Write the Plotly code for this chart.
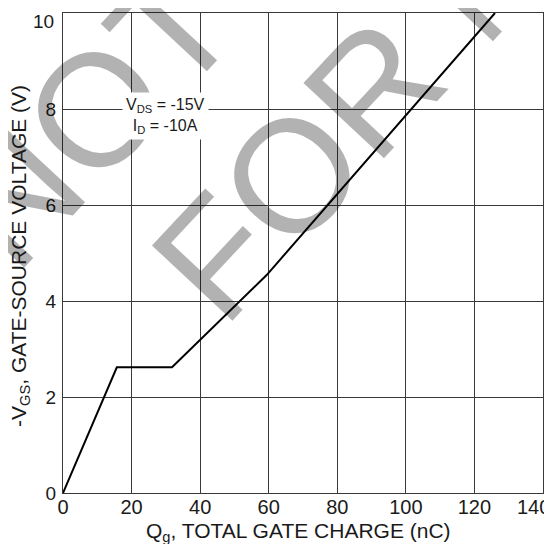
import plotly.graph_objects as go

# Data
charge_nc = [0, 15.7, 31.8, 59.4, 126.0]
vgs_v = [0, 2.62, 2.62, 4.54, 10.0]

x_ticks = [0, 20, 40, 60, 80, 100, 120, 140]
y_ticks = [0, 2, 4, 6, 8, 10]

FONT = "Liberation Sans, Arial, sans-serif"
GRID = "#3a3a3a"
TXT = "#1a1a1a"

fig = go.Figure()
fig.add_trace(go.Scatter(
    x=charge_nc, y=vgs_v, mode="lines",
    line=dict(color="black", width=2),
    showlegend=False, hoverinfo="skip",
))

# page body has an 8px margin: size the figure so the plot lands where the reference's does
fig.update_layout(
    width=544, height=536,
    margin=dict(l=55, r=9, t=5, b=51),
    paper_bgcolor="white", plot_bgcolor="white",
    font=dict(family=FONT, color=TXT),
    showlegend=False,
)

fig.update_xaxes(
    range=[0, 140], tickvals=x_ticks,
    ticktext=[str(t) if t != 140 else "" for t in x_ticks],
    showgrid=True, gridcolor=GRID, gridwidth=1,
    showline=True, linecolor=GRID, linewidth=1, mirror=True,
    zeroline=False, ticks="", tickfont=dict(size=20, family=FONT, color=TXT),
    ticklabelstandoff=-4,
    automargin=False, fixedrange=True,
)
fig.update_yaxes(
    range=[0, 10], tickvals=y_ticks,
    ticktext=[str(t) if t != 10 else "" for t in y_ticks],
    showgrid=True, gridcolor=GRID, gridwidth=1,
    showline=True, linecolor=GRID, linewidth=1, mirror=True,
    zeroline=False, ticks="", tickfont=dict(size=19, family=FONT, color=TXT),
    ticklabelstandoff=2,
    automargin=False, fixedrange=True,
)

# Watermark (obsolete-product stamp)
wm = dict(color="rgba(0,0,0,0.3)", size=160, family=FONT)
fig.add_annotation(text="NOT RECOMMENDED", xref="paper", yref="paper",
                   x=1.0, y=1.80, xanchor="center", yanchor="middle",
                   textangle=-47, showarrow=False, font=wm)
fig.add_annotation(text="FOR NEW DESIGN", xref="paper", yref="paper",
                   x=1.254, y=1.495, xanchor="center", yanchor="middle",
                   textangle=-47, showarrow=False, font=wm)

# Edge tick labels pulled inside the page, as in the reference
fig.add_annotation(text="10", xref="paper", yref="paper", x=0, y=1,
                   xanchor="right", yanchor="middle", xshift=-7, yshift=-8,
                   showarrow=False, font=dict(size=19, family=FONT, color=TXT))
fig.add_annotation(text="140", xref="paper", yref="paper", x=1, y=0,
                   xanchor="center", yanchor="middle", xshift=-10, yshift=-14,
                   showarrow=False, font=dict(size=20, family=FONT, color=TXT))

# Axis titles
fig.add_annotation(text="Q<sub>g</sub>, TOTAL GATE CHARGE (nC)", xref="paper", yref="paper",
                   x=0.5, y=0, xanchor="center", yanchor="middle", xshift=-5, yshift=-39,
                   showarrow=False, font=dict(size=21, family=FONT, color=TXT))
fig.add_annotation(text="-V<sub>GS</sub>, GATE-SOURCE VOLTAGE (V)", xref="paper", yref="paper",
                   x=0, y=0.5, xanchor="center", yanchor="middle", xshift=-43, yshift=-3,
                   textangle=-90, showarrow=False, font=dict(size=21, family=FONT, color=TXT))

# Condition label
fig.add_annotation(text="V<sub>DS</sub> = -15V<br>I<sub>D</sub> = -10A",
                   x=30, y=7.85, xref="x", yref="y", showarrow=False,
                   font=dict(size=16, family=FONT, color=TXT),
                   bgcolor="white", borderpad=3, align="center")

fig.write_html("out.html")
